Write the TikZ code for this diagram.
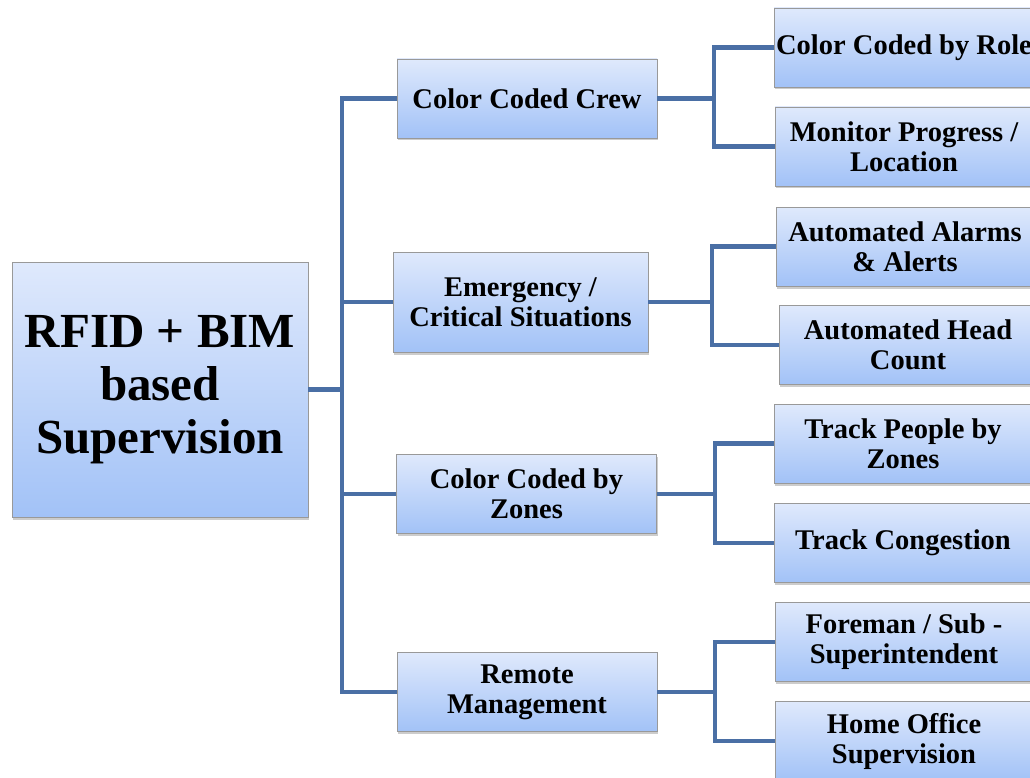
\documentclass[tikz,border=0pt]{standalone}
\usepackage{fontspec}
\setmainfont{Liberation Serif}
\usepackage{xcolor}
\usepackage{tikz}
\usetikzlibrary{calc,shadows}
\definecolor{boxtop}{HTML}{DFE9FC}
\definecolor{boxbot}{HTML}{A2C2F7}
\definecolor{linkblue}{HTML}{4A6FA5}

\begin{document}
\begin{tikzpicture}[x=1pt, y=-1pt,
  box/.style={draw=gray!80, line width=0.8pt, top color=boxtop, bottom color=boxbot,
    drop shadow={shadow xshift=1pt, shadow yshift=-2.5pt, opacity=0.4},
    align=center, inner sep=2pt, font=\bfseries\fontsize{28.5}{30}\selectfont},
  midbox/.style={box, minimum width=260pt, minimum height=79pt},
  leafbox/.style={box, minimum width=258pt, minimum height=79pt},
  link/.style={linkblue, line width=4.5pt}]
  \useasboundingbox (0,0) rectangle (1030,778);
  \clip (0,0) rectangle (1030,778);
  \node[box, minimum width=296pt, minimum height=255pt, font=\bfseries\fontsize{49}{53}\selectfont] (root) at (160,389.5) {RFID + BIM\\based\\Supervision};
  \node[midbox] (crew) at (527,98.5) {Color Coded Crew};
  \node[midbox, minimum width=255pt, minimum height=100pt] (emerg) at (520.5,302) {Emergency /\\Critical Situations};
  \node[midbox] (zones) at (526.5,494) {Color Coded by\\Zones};
  \node[midbox] (remote) at (527,692) {Remote\\Management};
  \node[leafbox] (role) at (904,47.5) {Color Coded by Role};
  \node[leafbox] (progress) at (904,146.5) {Monitor Progress /\\Location};
  \node[leafbox] (alarms) at (905,246.5) {Automated Alarms\\\& Alerts};
  \node[leafbox] (headcount) at (908,345) {Automated Head\\Count};
  \node[leafbox] (people) at (903,443.5) {Track People by\\Zones};
  \node[leafbox] (congestion) at (903,543) {Track Congestion};
  \node[leafbox] (foreman) at (904,642) {Foreman / Sub -\\Superintendent};
  \node[leafbox] (homeoffice) at (904,741) {Home Office\\Supervision};
  \coordinate (trunk) at (342,389.5);
  \coordinate (crewfork) at (714,98.5);
  \coordinate (emergfork) at (712,302);
  \coordinate (zonesfork) at (715,494);
  \coordinate (remotefork) at (715,692);
  \draw[link] (root.east) -- (trunk);
  \draw[link] (trunk) |- (crew.west);
  \draw[link] (trunk) |- (emerg.west);
  \draw[link] (trunk) |- (zones.west);
  \draw[link] (trunk) |- (remote.west);
  \draw[link] (crew.east) -- (crewfork);
  \draw[link] (crewfork) |- (role.west);
  \draw[link] (crewfork) |- (progress.west);
  \draw[link] (emerg.east) -- (emergfork);
  \draw[link] (emergfork) |- (alarms.west);
  \draw[link] (emergfork) |- (headcount.west);
  \draw[link] (zones.east) -- (zonesfork);
  \draw[link] (zonesfork) |- (people.west);
  \draw[link] (zonesfork) |- (congestion.west);
  \draw[link] (remote.east) -- (remotefork);
  \draw[link] (remotefork) |- (foreman.west);
  \draw[link] (remotefork) |- (homeoffice.west);
\end{tikzpicture}
\end{document}
